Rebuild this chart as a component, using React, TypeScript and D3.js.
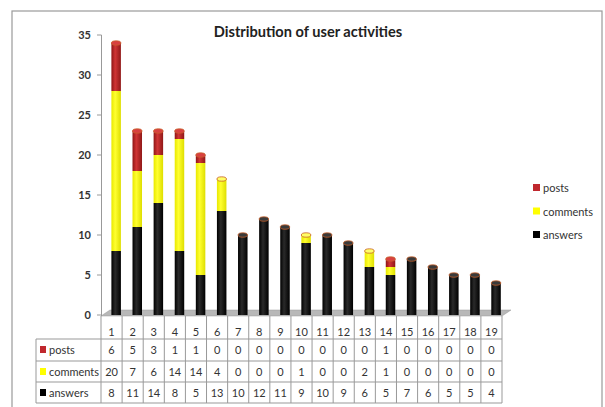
import React from "react";
import * as d3 from "d3";

const categories = ["1","2","3","4","5","6","7","8","9","10","11","12","13","14","15","16","17","18","19"];
const answers = [8, 11, 14, 8, 5, 13, 10, 12, 11, 9, 10, 9, 6, 5, 7, 6, 5, 5, 4];
const comments = [20, 7, 6, 14, 14, 4, 0, 0, 0, 1, 0, 0, 2, 1, 0, 0, 0, 0, 0];
const posts = [6, 5, 3, 1, 1, 0, 0, 0, 0, 0, 0, 0, 0, 1, 0, 0, 0, 0, 0];
const yTicks = [0, 5, 10, 15, 20, 25, 30, 35];
const seriesNames = ["posts", "comments", "answers"];
const title = "Distribution of user activities";

const FONT = "Lato, 'Open Sans', sans-serif";

export default function App() {
  const x = d3.scaleBand<string>().domain(categories).range([101, 502]).padding(0);
  const y = d3.scaleLinear().domain([0, 35]).range([315, 35]);
  const bw = 9.5;
  const off = 4.6;
  const stackData = categories.map((c, i) => ({ c, answers: answers[i], comments: comments[i], posts: posts[i] }));
  const stack = d3.stack<any>().keys(["answers", "comments", "posts"])(stackData);
  const grads: Record<string, string> = { answers: "gA", comments: "gC", posts: "gP" };
  const capColor: Record<string, string> = { answers: "#3a3a3a", comments: "#ffff66", posts: "#d84040" };
  const legendColor: Record<string, string> = { posts: "#c0282e", comments: "#ffff00", answers: "#000" };
  const table: Record<string, number[]> = { posts, comments, answers };
  const rowTops = [339, 361, 382, 403];

  return (
    <svg width={605} height={407} style={{ position: "absolute", left: 0, top: 0 }}>
      <defs>
        <linearGradient id="gA" x1="0" x2="1" y1="0" y2="0">
          <stop offset="0" stopColor="#000" />
          <stop offset="0.4" stopColor="#2a2a2a" />
          <stop offset="1" stopColor="#000" />
        </linearGradient>
        <linearGradient id="gC" x1="0" x2="1" y1="0" y2="0">
          <stop offset="0" stopColor="#e8e800" />
          <stop offset="0.4" stopColor="#ffff30" />
          <stop offset="1" stopColor="#dede00" />
        </linearGradient>
        <linearGradient id="gP" x1="0" x2="1" y1="0" y2="0">
          <stop offset="0" stopColor="#8e1515" />
          <stop offset="0.4" stopColor="#d03535" />
          <stop offset="1" stopColor="#901818" />
        </linearGradient>
      </defs>
      <rect x={0} y={0} width={605} height={407} fill="#fff" />
      <rect x={12} y={11} width={590} height={410} fill="none" stroke="#9a9a9a" strokeWidth={1.2} />
      <text x={308} y={37} textAnchor="middle" fontFamily={FONT} fontWeight="bold" fontSize={14.6} fill="#222">{title}</text>

      {/* floor */}
      <polygon points="101,316 502,316 511,310 110,310" fill="#b8b8b8" stroke="#999" strokeWidth={0.5} />

      {/* y axis */}
      <line x1={101.5} x2={101.5} y1={35} y2={316} stroke="#999" />
      {yTicks.map((t) => (
        <g key={t}>
          <line x1={97} x2={101.5} y1={y(t)} y2={y(t)} stroke="#999" />
          <text x={91} y={y(t) + 4} textAnchor="end" fontFamily={FONT} fontWeight="bold" fontSize={11} fill="#333">{t}</text>
        </g>
      ))}

      {/* bars */}
      {stack.map((s) => (
        <g key={s.key}>
          {s.map((d, i) => {
            const h = y(d[0]) - y(d[1]);
            if (h <= 0) return null;
            const cx = (x(categories[i]) as number) + x.bandwidth() / 2 + off;
            return <rect key={i} x={cx - bw / 2} y={y(d[1])} width={bw} height={h} fill={`url(#${grads[s.key]})`} />;
          })}
        </g>
      ))}
      {categories.map((c, i) => {
        const total = answers[i] + comments[i] + posts[i];
        const topKey = posts[i] > 0 ? "posts" : comments[i] > 0 ? "comments" : "answers";
        const cx = (x(c) as number) + x.bandwidth() / 2 + off;
        return (
          <ellipse key={c} cx={cx} cy={y(total)} rx={bw / 2} ry={2.2} fill={capColor[topKey]} stroke="#c8602a" strokeWidth={0.8} />
        );
      })}

      {/* table */}
      <g fontFamily={FONT} fontSize={11} fill="#333">
        {categories.map((c) => (
          <text key={c} x={(x(c) as number) + x.bandwidth() / 2} y={336} textAnchor="middle">{c}</text>
        ))}
        {x.domain().map((c) => (
          <line key={c} x1={x(c) as number} x2={x(c) as number} y1={316} y2={403} stroke="#999" />
        ))}
        <line x1={502} x2={502} y1={316} y2={403} stroke="#999" />
        <line x1={36} x2={36} y1={339} y2={403} stroke="#999" />
        {rowTops.map((ry) => (
          <line key={ry} x1={36} x2={502} y1={ry} y2={ry} stroke="#999" />
        ))}
        {seriesNames.map((name, r) => (
          <g key={name}>
            <rect x={40} y={rowTops[r] + 7} width={6} height={7} fill={legendColor[name]} />
            <text x={49} y={rowTops[r] + 15}>{name}</text>
            {table[name].map((v, i) => (
              <text key={i} x={(x(categories[i]) as number) + x.bandwidth() / 2} y={rowTops[r] + 15} textAnchor="middle">{v}</text>
            ))}
          </g>
        ))}
      </g>

      {/* legend */}
      <g fontFamily={FONT} fontSize={11} fill="#333">
        {seriesNames.map((name, r) => (
          <g key={name}>
            <rect x={533} y={184 + r * 23.5} width={7} height={7} fill={legendColor[name]} />
            <text x={543} y={192 + r * 23.5}>{name}</text>
          </g>
        ))}
      </g>
    </svg>
  );
}
